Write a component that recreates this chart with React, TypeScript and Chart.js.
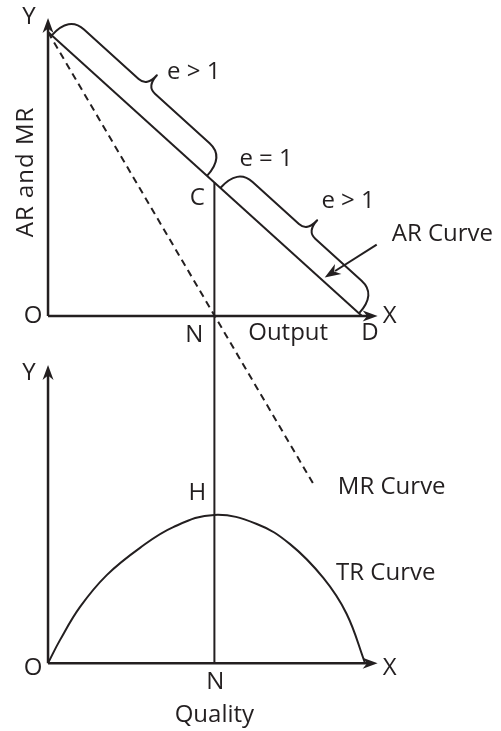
import React, { useEffect, useRef } from "react";
import { Chart, registerables } from "chart.js";

Chart.register(...registerables);

// ---- data (economic units) ----
const AR_X = [0, 10]; // Y-intercept to D
const AR_Y = [10, 0];
const MR_X = [0, 8.5];
const MR_Y = [10, -6.0];
const N_OUTPUT = 5.3; // point N (MR = 0, TR max)
const AXIS_END = 10.5;
const TR_X = [0, 0.38, 1.02, 1.87, 2.93, 3.99, 5.3, 6.65, 7.71, 8.77, 9.51, 10.1];
const TR_Y = [0, 0.81, 1.98, 3.1, 4.06, 4.79, 5.22, 4.9, 4.19, 3.0, 1.74, 0];
const TR_PEAK_INDEX = 6;
const AR_POINTER_X = 8.75;

const INK = "#231f20";
const FONT = '"Open Sans", "DejaVu Sans", sans-serif';

function arrowHead(ctx: CanvasRenderingContext2D, x: number, y: number, ang: number, len = 15, hw = 5.5) {
  const cos = Math.cos(ang), sin = Math.sin(ang);
  const P = (a: number, b: number) => [x + a * cos - b * sin, y + a * sin + b * cos];
  const [bx1, by1] = P(-len, -hw);
  const [nx, ny] = P(-len * 0.7, 0);
  const [bx2, by2] = P(-len, hw);
  ctx.beginPath();
  ctx.moveTo(x, y);
  ctx.lineTo(bx1, by1);
  ctx.lineTo(nx, ny);
  ctx.lineTo(bx2, by2);
  ctx.closePath();
  ctx.fill();
}

function brace(ctx: CanvasRenderingContext2D, x1: number, y1: number, x2: number, y2: number, w: number, t: number, re: number, rt: number) {
  const L = Math.hypot(x2 - x1, y2 - y1);
  const ux = (x2 - x1) / L, uy = (y2 - y1) / L;
  const nx = uy, ny = -ux;
  const P = (s: number, h: number): [number, number] => [x1 + ux * s + nx * h, y1 + uy * s + ny * h];
  const m = L / 2;
  ctx.beginPath();
  ctx.moveTo(...P(0, 0));
  ctx.quadraticCurveTo(...P(0, w), ...P(re, w));
  ctx.lineTo(...P(m - rt, w));
  ctx.quadraticCurveTo(...P(m, w), ...P(m, w + t));
  ctx.quadraticCurveTo(...P(m, w), ...P(m + rt, w));
  ctx.lineTo(...P(L - re, w));
  ctx.quadraticCurveTo(...P(L, w), ...P(L, 0));
  ctx.stroke();
}

const arAt = (xv: number) => AR_Y[0] + ((AR_Y[1] - AR_Y[0]) * (xv - AR_X[0])) / (AR_X[1] - AR_X[0]);

const overlay = {
  id: "overlay",
  afterDatasetsDraw(chart: any) {
    const { ctx, scales } = chart;
    const px = (v: number) => scales.x.getPixelForValue(v);
    const pt = (v: number) => scales.yTop.getPixelForValue(v);
    const pb = (v: number) => scales.yBot.getPixelForValue(v);
    ctx.save();
    ctx.strokeStyle = INK;
    ctx.fillStyle = INK;
    ctx.lineCap = "butt";

    const xN = px(N_OUTPUT);
    const yC = pt(arAt(N_OUTPUT));
    // C-N-N connector
    ctx.lineWidth = 2;
    ctx.beginPath();
    ctx.moveTo(xN, yC);
    ctx.lineTo(xN, pb(0));
    ctx.stroke();

    // axis arrowheads
    arrowHead(ctx, px(0), pt(AXIS_END), -Math.PI / 2);
    arrowHead(ctx, px(AXIS_END), pt(0), 0);
    arrowHead(ctx, px(0), pb(AXIS_END), -Math.PI / 2);
    arrowHead(ctx, px(AXIS_END), pb(0), 0);

    // braces
    const yX = px(AR_X[0]), yY = pt(AR_Y[0]);
    const dX = px(AR_X[1]), dY = pt(AR_Y[1]);
    const u1 = Math.hypot(xN - yX, yC - yY);
    const ux = (xN - yX) / u1, uy = (yC - yY) / u1;
    ctx.lineWidth = 2;
    ctx.lineJoin = "round";
    brace(ctx, yX + ux * 5, yY + uy * 5, xN - ux * 10, yC - uy * 10, 26, 15, 20, 11);
    brace(ctx, xN + ux * 8, yC + uy * 8, dX - ux * 4, dY - uy * 4, 26, 15, 20, 11);

    // AR curve pointer
    const tipX = px(AR_POINTER_X) + 2, tipY = pt(arAt(AR_POINTER_X)) - 3;
    const tailX = tipX + 52, tailY = tipY - 33;
    ctx.lineWidth = 2;
    ctx.beginPath();
    ctx.moveTo(tailX, tailY);
    ctx.lineTo(tipX + (tailX - tipX) * 0.2, tipY + (tailY - tipY) * 0.2);
    ctx.stroke();
    arrowHead(ctx, tipX, tipY, Math.atan2(tipY - tailY, tipX - tailX), 16, 6);

    // labels
    ctx.font = `24px ${FONT}`;
    ctx.textBaseline = "middle";
    const txt = (s: string, x: number, y: number, align: CanvasTextAlign = "center") => {
      ctx.textAlign = align;
      ctx.fillText(s, x, y);
    };
    const x0 = px(0);
    const yT0 = pt(0);
    const yB0 = pb(0);
    const yH = pb(TR_Y[TR_PEAK_INDEX]);
    txt("Y", x0 - 19, pt(AXIS_END) - 1);
    txt("O", x0 - 15, yT0);
    txt("N", xN - 20, yT0 + 19);
    txt("Output", (xN + dX) / 2 + 0, yT0 + 17);
    txt("D", dX + 8, yT0 + 17);
    txt("X", px(AXIS_END) + 12, yT0);
    txt("C", xN - 17, yC + 16);
    txt("e > 1", yX + 119, yY + 40, "left");
    txt("e = 1", xN + 25, yC - 23, "left");
    txt("e > 1", xN + 107, yC + 19, "left");
    txt("AR Curve", tailX + 15, tailY - 10, "left");
    txt("MR Curve", px(MR_X[1]) + 23, pt(MR_Y[1]) + 1, "left");
    txt("Y", x0 - 19, pb(AXIS_END) + 8);
    txt("H", xN - 17, yH - 22);
    txt("TR Curve", x0 + 288, yH + 58, "left");
    txt("O", x0 - 15, yB0 + 5);
    txt("N", xN + 1, yB0 + 19);
    txt("Quality", xN, yB0 + 52);
    txt("X", px(AXIS_END) + 12, yB0 + 5);

    ctx.save();
    ctx.translate(26, 172);
    ctx.rotate(-Math.PI / 2);
    (ctx as any).letterSpacing = "1px";
    txt("AR and MR", 0, 0);
    ctx.restore();

    ctx.restore();
  },
};

export default function App() {
  const ref = useRef<HTMLCanvasElement | null>(null);
  useEffect(() => {
    document.body.style.margin = "0";
    const canvas = ref.current!;
    const toPts = (xs: number[], ys: number[]) => xs.map((x, i) => ({ x, y: ys[i] }));
    const line = (data: any[], yAxisID: string, width: number, extra: any = {}) => ({
      data,
      yAxisID,
      borderColor: INK,
      borderWidth: width,
      pointRadius: 0,
      fill: false,
      tension: 0,
      ...extra,
    });
    const chart = new Chart(canvas, {
      type: "line",
      data: {
        datasets: [
          line(toPts([0, 0], [0, AXIS_END - 0.3]), "yTop", 2.5),
          line(toPts([0, AXIS_END - 0.3], [0, 0]), "yTop", 2.5),
          line(toPts([0, 0], [0, AXIS_END - 0.3]), "yBot", 2.5),
          line(toPts([0, AXIS_END - 0.3], [0, 0]), "yBot", 2.5),
          line(toPts(AR_X, AR_Y), "yTop", 2),
          line(toPts(MR_X, MR_Y), "yTop", 2, { borderDash: [7, 5] }),
          line(toPts(TR_X, TR_Y), "yBot", 2, { tension: 0.4 }),
        ] as any,
      },
      options: {
        responsive: false,
        animation: false,
        parsing: false as any,
        layout: { padding: 0 },
        plugins: { legend: { display: false }, tooltip: { enabled: false } },
        scales: {
          x: { type: "linear", min: -1.53, max: 14.43, display: false },
          yTop: { type: "linear", min: -14.61, max: 11.13, display: false },
          yBot: { type: "linear", min: -2.39, max: 23.35, display: false },
        },
      },
      plugins: [overlay],
    });
    return () => chart.destroy();
  }, []);
  return (
    <div style={{ width: 501, height: 731, background: "#fff" }}>
      <canvas ref={ref} width={501} height={731} />
    </div>
  );
}
